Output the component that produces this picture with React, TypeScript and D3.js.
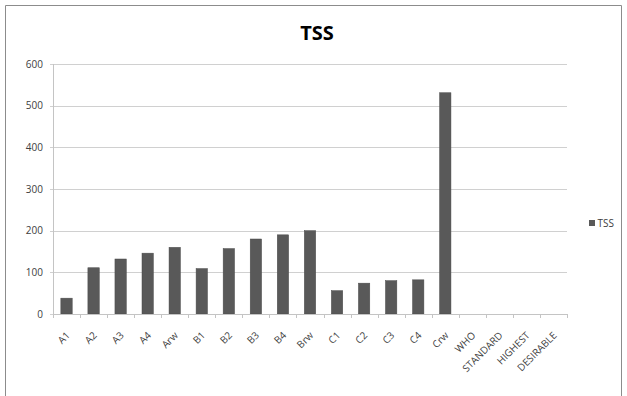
import React from "react";
import * as d3 from "d3";

const categories = [
  "A1", "A2", "A3", "A4", "Arw",
  "B1", "B2", "B3", "B4", "Brw",
  "C1", "C2", "C3", "C4", "Crw",
  "WHO", "STANDARD", "HIGHEST", "DESIRABLE",
];
const tssValues: (number | null)[] = [
  38, 111, 132, 146, 160,
  109, 157, 180, 190, 200,
  56, 74, 80, 82, 531,
  null, null, null, null,
];
const yTicks = [0, 100, 200, 300, 400, 500, 600];

const W = 627;
const H = 396;
const plot = { left: 53, right: 567, top: 64, bottom: 314 };
const font = "'Open Sans', 'Liberation Sans', sans-serif";

export default function App() {
  const x = d3
    .scaleBand<string>()
    .domain(categories)
    .range([plot.left, plot.right])
    .paddingInner(0.58)
    .paddingOuter(0.29);
  const band = d3.scaleBand<string>().domain(categories).range([plot.left, plot.right]);
  const y = d3.scaleLinear().domain([0, 600]).range([plot.bottom, plot.top]);

  return (
    <svg
      width={W}
      height={H}
      style={{ position: "absolute", left: 0, top: 0, background: "#fff" }}
      fontFamily={font}
    >
      <rect x={0} y={0} width={W} height={H} fill="#fff" />
      {/* chart frame */}
      <path d={`M5.5,${H} V5.5 H621.5 V${H}`} fill="none" stroke="#8c8c8c" strokeWidth={1} />

      <text x={317} y={40} textAnchor="middle" fontSize={20} fontWeight="bold" fill="#000">
        TSS
      </text>

      {/* gridlines */}
      {yTicks.map((t) => (
        <line
          key={t}
          x1={plot.left - 3}
          x2={plot.right}
          y1={Math.round(y(t)) + 0.5}
          y2={Math.round(y(t)) + 0.5}
          stroke="#d0d0d0"
          strokeWidth={1}
        />
      ))}
      {/* y labels */}
      {yTicks.map((t) => (
        <text
          key={"l" + t}
          x={plot.left - 10}
          y={y(t) + 3.5}
          textAnchor="end"
          fontSize={10}
          fill="#404040"
        >
          {t}
        </text>
      ))}
      {/* y axis */}
      <line x1={plot.left + 0.5} x2={plot.left + 0.5} y1={plot.top} y2={plot.bottom} stroke="#c4c4c4" />

      {/* bars */}
      {categories.map((c, i) => {
        const v = tssValues[i];
        if (v == null) return null;
        return (
          <rect
            key={c}
            x={x(c)}
            y={y(v)}
            width={x.bandwidth()}
            height={y(0) - y(v)}
            fill="#595959"
            stroke="#4a4a4a"
            strokeWidth={0.5}
          />
        );
      })}

      {/* x axis */}
      <line x1={plot.left} x2={plot.right} y1={plot.bottom + 0.5} y2={plot.bottom + 0.5} stroke="#c4c4c4" />
      {categories.map((c) => {
        const tx = band(c) as number;
        return (
          <line
            key={"t" + c}
            x1={Math.round(tx) + 0.5}
            x2={Math.round(tx) + 0.5}
            y1={plot.bottom}
            y2={plot.bottom + 4}
            stroke="#c4c4c4"
          />
        );
      })}
      <line x1={plot.right + 0.5} x2={plot.right + 0.5} y1={plot.bottom} y2={plot.bottom + 4} stroke="#c4c4c4" />

      {/* x labels */}
      {categories.map((c) => {
        const cx = (band(c) as number) + band.bandwidth() / 2 + 4;
        const cy = plot.bottom + 22;
        return (
          <text
            key={"x" + c}
            transform={`translate(${cx},${cy}) rotate(-45)`}
            textAnchor="end"
            fontSize={10}
            fill="#404040"
          >
            {c}
          </text>
        );
      })}

      {/* legend */}
      <rect x={589} y={220} width={6} height={6} fill="#595959" />
      <text x={597.5} y={227} fontSize={10} fill="#404040">
        TSS
      </text>
    </svg>
  );
}
